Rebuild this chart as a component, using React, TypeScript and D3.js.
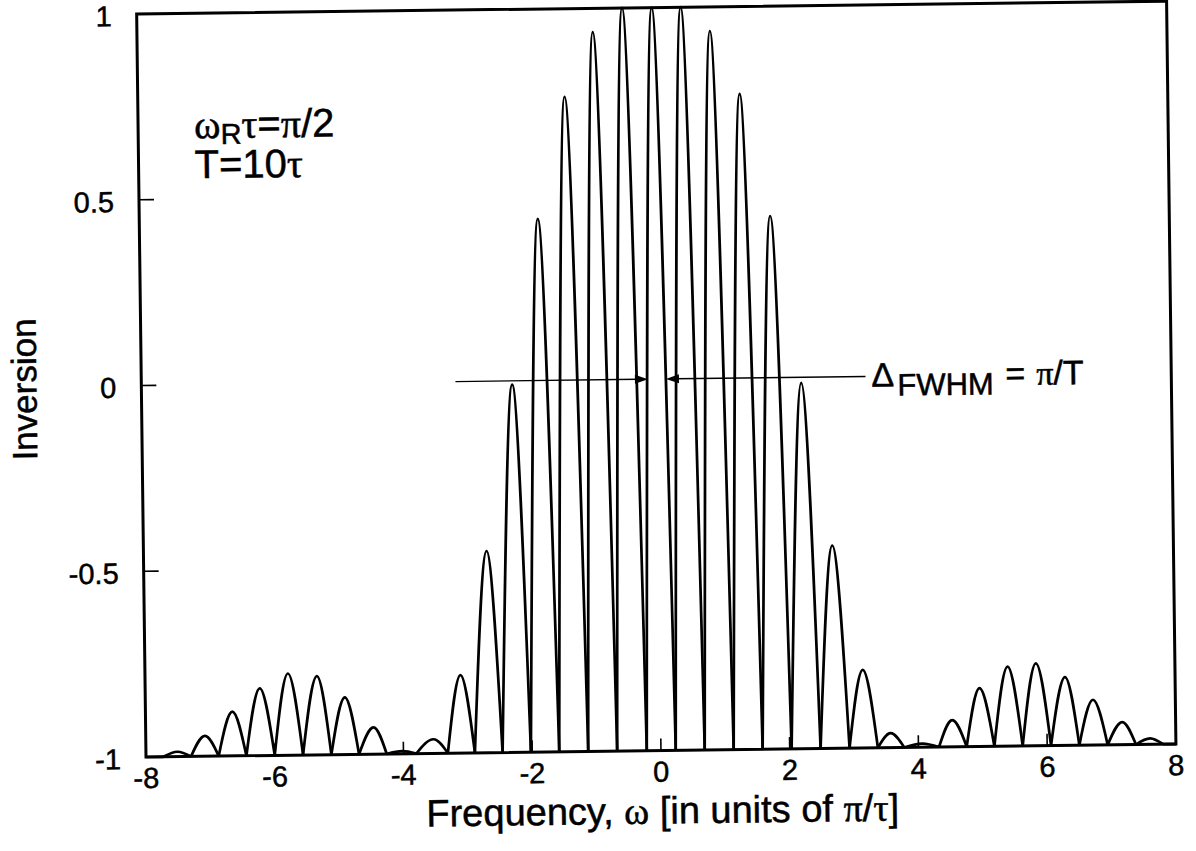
import React from "react";
import * as d3 from "d3";

// Fringe maxima: detuning (units of pi/tau) and inversion at each maximum
const peakX = [
  -7.51, -7.08, -6.65, -6.22, -5.78, -5.33, -4.9, -4.46, -4.02, -3.53, -3.1, -2.67,
  -2.24, -1.81, -1.37, -0.92, -0.46, 0.0, 0.45, 0.9, 1.35, 1.8, 2.25, 2.7, 3.15,
  3.57, 4.06, 4.53, 4.96, 5.4, 5.84, 6.29, 6.72, 7.17, 7.6,
];
const peakY = [
  -0.987, -0.945, -0.881, -0.819, -0.78, -0.788, -0.846, -0.928, -0.993, -0.962,
  -0.79, -0.457, -0.01, 0.435, 0.763, 0.936, 1.0, 1.0, 1.0, 0.935, 0.765, 0.435,
  -0.015, -0.454, -0.79, -0.961, -0.99, -0.928, -0.843, -0.786, -0.778, -0.816,
  -0.878, -0.939, -0.984,
];
// Fringe minima (inversion -1) bracketing each maximum
const valleyX = [
  -7.73, -7.3, -6.87, -6.44, -6.0, -5.56, -5.12, -4.69, -4.26, -3.8, -3.31, -2.89,
  -2.46, -2.02, -1.58, -1.13, -0.68, -0.22, 0.23, 0.68, 1.13, 1.58, 2.03, 2.48,
  2.93, 3.37, 3.78, 4.32, 4.75, 5.18, 5.62, 6.06, 6.5, 6.94, 7.38, 7.8,
];
const valleyY = -1;

const xTicks = [-8, -6, -4, -2, 0, 2, 4, 6, 8];
const yTicks = [-1, -0.5, 0, 0.5, 1];
const yTickLabels = ["-1", "-0.5", "0", "0.5", "1"];

// FWHM arrows drawn at inversion 0, pointing inwards to the central fringe
const fwhmLevel = 0;
const arrowLeft = [-3.12, -0.13];
const arrowRight = [3.25, 0.15];

const W = 1196;
const H = 851;
const SANS = "'Liberation Sans', Arial, Helvetica, sans-serif";
const GREEK = "'Liberation Serif', 'Times New Roman', serif";

export default function App() {
  const x = d3.scaleLinear().domain([-8, 8]).range([146, 1176]);
  const y = d3.scaleLinear().domain([-1, 1]).range([757, 14]);

  const line = d3
    .line<[number, number]>()
    .x((d) => x(d[0]))
    .y((d) => y(d[1]))
    .curve(d3.curveMonotoneX);

  const fringes = peakX.map((px, i) =>
    line([
      [valleyX[i], valleyY],
      [px, peakY[i]],
      [valleyX[i + 1], valleyY],
    ])
  );

  const arrowHead = (tip: number, dir: number) => {
    const tx = x(tip);
    const ty = y(fwhmLevel);
    const len = 13;
    const half = 4.5;
    return `M${tx},${ty}L${tx - dir * len},${ty - half}L${tx - dir * len},${ty + half}Z`;
  };

  const ink = { fill: "#000", stroke: "#000", strokeWidth: 0.5 };

  return (
    <svg
      width={W}
      height={H}
      style={{ position: "absolute", left: 0, top: 0, background: "#fff" }}
    >
      <g transform="rotate(-0.72 146 757)">
        {/* fringe curve */}
        <g fill="none" stroke="#000" strokeWidth={2.7} strokeLinejoin="round">
          {fringes.map((d, i) => (
            <path key={i} d={d ?? ""} />
          ))}
          <line x1={x(-8)} x2={x(valleyX[0])} y1={y(-1)} y2={y(-1)} />
          <line
            x1={x(valleyX[valleyX.length - 1])}
            x2={x(8)}
            y1={y(-1)}
            y2={y(-1)}
          />
        </g>

        {/* frame */}
        <rect
          x={x(-8)}
          y={y(1)}
          width={x(8) - x(-8)}
          height={y(-1) - y(1)}
          fill="none"
          stroke="#000"
          strokeWidth={3}
        />

        {/* inward ticks */}
        <g stroke="#000" strokeWidth={1.6}>
          {yTicks.slice(1, -1).map((t) => (
            <line key={t} x1={x(-8)} x2={x(-8) + 15} y1={y(t)} y2={y(t)} />
          ))}
          {xTicks.slice(1, -1).map((t) => (
            <line key={t} x1={x(t)} x2={x(t)} y1={y(-1)} y2={y(-1) - 12} />
          ))}
        </g>

        {/* tick labels */}
        <g fontFamily={SANS} fontSize={29} {...ink}>
          {yTicks.map((t, i) => (
            <text key={t} x={121} y={y(t) + 2} textAnchor="end" dominantBaseline="central">
              {yTickLabels[i]}
            </text>
          ))}
          {xTicks.map((t) => (
            <text key={t} x={x(t)} y={788} textAnchor="middle">
              {t}
            </text>
          ))}
        </g>

        {/* axis titles */}
        <text
          transform="translate(41,388) rotate(-90)"
          textAnchor="middle"
          fontFamily={SANS}
          fontSize={35}
          {...ink}
        >
          Inversion
        </text>
        <text x={662} y={830} textAnchor="middle" fontFamily={SANS} fontSize={38} {...ink}>
          Frequency, <tspan fontFamily={GREEK}>ω</tspan> [in units of{" "}
          <tspan fontFamily={GREEK}>π</tspan>/<tspan fontFamily={GREEK}>τ</tspan>]
        </text>

        {/* parameters */}
        <g fontFamily={SANS} fontSize={40} {...ink}>
          <text x={202} y={139}>
            <tspan fontFamily={GREEK}>ω</tspan>
            <tspan dy={6} fontSize={29}>R</tspan>
            <tspan dy={-6} fontFamily={GREEK}>τ</tspan>=<tspan fontFamily={GREEK}>π</tspan>/2
          </text>
          <text x={202} y={179}>
            T=10<tspan fontFamily={GREEK}>τ</tspan>
          </text>
        </g>

        {/* FWHM annotation */}
        <g stroke="#000" strokeWidth={1.4}>
          <line x1={x(arrowLeft[0])} x2={x(arrowLeft[1]) - 10} y1={y(fwhmLevel)} y2={y(fwhmLevel)} />
          <line x1={x(arrowRight[0])} x2={x(arrowRight[1]) + 10} y1={y(fwhmLevel)} y2={y(fwhmLevel)} />
        </g>
        <path d={arrowHead(arrowLeft[1], 1)} fill="#000" />
        <path d={arrowHead(arrowRight[1], -1)} fill="#000" />
        <text y={396} fontFamily={SANS} fontSize={34} {...ink}>
          <tspan x={876}>Δ</tspan>
          <tspan x={902} dy={9} fontSize={31}>FWHM</tspan>
          <tspan x={1010} dy={-9}>=</tspan>
          <tspan x={1041} fontFamily={GREEK}>π</tspan>/T
        </text>
      </g>
    </svg>
  );
}
